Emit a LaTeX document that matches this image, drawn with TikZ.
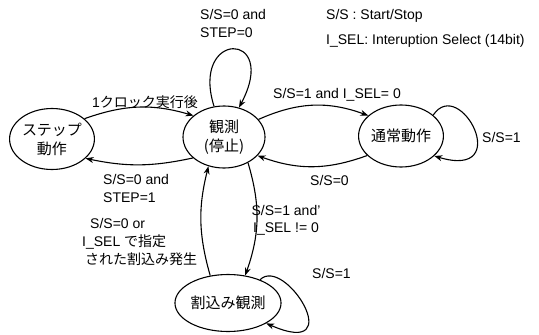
\documentclass[tikz,border=0pt]{standalone}
\usepackage{fontspec}
\setmainfont{Liberation Sans}
\newfontfamily\jp{Noto Sans CJK JP}
\usetikzlibrary{shapes.geometric,arrows.meta}
\begin{document}
\begin{tikzpicture}[x=1pt,y=-1pt,
  every node/.style={font=\fontsize{14}{18}\selectfont, inner sep=0pt},
  state/.style={draw, ellipse, line width=1.1pt, font=\jp\fontsize{15}{19}\selectfont, align=center},
  conn/.style={line width=1.1pt, -{Stealth[length=8pt,width=6pt]}},
  lbl/.style={anchor=west, align=left}]
\useasboundingbox (0,0) rectangle (539,335);
% states
\node[state, minimum width=82pt, minimum height=61pt] (step) at (52,139) {ステップ\\動作};
\node[state, minimum width=82pt, minimum height=62pt] (obs) at (224,137) {観測\\(停止)};
\node[state, minimum width=84pt, minimum height=62pt] (norm) at (401,136) {通常動作};
\node[state, minimum width=80pt, minimum height=57pt] (intr) at (228,303) {割込み観測};
% connectors
\draw[conn] (step.32) to[bend left=18] (obs.145);
\draw[conn] (obs.214) to[bend left=12] (step.330);
\draw[conn] (obs.108) .. controls (190,30) and (280,30) .. (obs.63);
\draw[conn] (obs.27) to[bend left=22] (norm.148);
\draw[conn] (norm.210) to[bend left=20] (obs.331);
\draw[conn] (norm.33) .. controls (460,75) and (515,180) .. (norm.-31);
\draw[conn] (obs.-47) to[bend left=18] (intr.58);
\draw[conn] (intr.123) to[bend left=15] (obs.242);
\draw[conn] (intr.36) .. controls (285,255) and (350,360) .. (intr.-28);
% labels
\node[lbl] (l1) at (92,102) {1{\jp クロック実行後}};
\node[lbl] (l2) at (103,188) {S/S=0 and\\STEP=1};
\node[lbl] (l3) at (200,23) {S/S=0 and\\STEP=0};
\node[lbl] (l4) at (273,95) {S/S=1 and I\_SEL= 0};
\node[lbl] (l5) at (310,180) {S/S=0};
\node[lbl] (l6) at (482,137) {S/S=1};
\node[anchor=center, align=center, font=\fontsize{14}{17}\selectfont] (l7) at (286,220) {S/S=1 and'\\I\_SEL != 0};
\node[lbl] (l8) at (82,242) {\hspace*{8pt}S/S=0 or\\I\_SEL {\jp で指定}\\\hspace*{3pt}{\jp された割込み発生}};
\node[lbl] (l9) at (312,273) {S/S=1};
\node[lbl] (g1) at (326,16) {S/S : Start/Stop};
\node[lbl] (g2) at (326,41) {I\_SEL: Interuption Select (14bit)};
\end{tikzpicture}
\end{document}
